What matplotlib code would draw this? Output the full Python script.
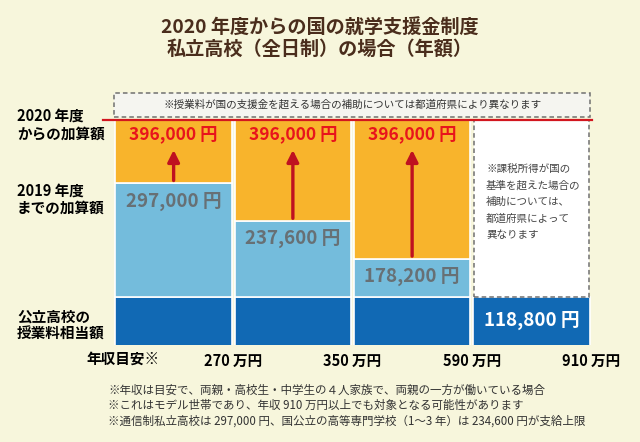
import matplotlib
matplotlib.use("Agg")
from matplotlib import pyplot as plt
from matplotlib.patches import Rectangle

plt.rcParams['font.family'] = ['Noto Sans CJK JP', 'DejaVu Sans']

# data (yen, per year)
columns = [0, 1, 2, 3]
public_amount = [118800, 118800, 118800, 118800]
until_2019 = [297000, 237600, 178200]
from_2020 = [396000, 396000, 396000]
income_ticks = ['270 万円', '350 万円', '590 万円', '910 万円']
public_label = '118,800 円'

title = '2020 年度からの国の就学支援金制度\n私立高校（全日制）の場合（年額）'
top_note = '※授業料が国の支援金を超える場合の補助については都道府県により異なります'
side_note = '※課税所得が国の\n基準を超えた場合の\n補助については、\n都道府県によって\n異なります'
footnotes = ['※年収は目安で、両親・高校生・中学生の４人家族で、両親の一方が働いている場合',
             '※これはモデル世帯であり、年収 910 万円以上でも対象となる可能性があります',
             '※通信制私立高校は 297,000 円、国公立の高等専門学校（1～3 年）は 234,600 円が支給上限']

bg = '#f7f6dc'
orange = '#f8b42c'
light_blue = '#74bcdc'
dark_blue = '#1169b4'
red_text = '#e8141c'
arrow_red = '#bf1120'
gray_val = '#677075'

fig = plt.figure(figsize=(6.4, 4.42), dpi=100, facecolor=bg)
ax = fig.add_axes([114 / 640, 1 - 345 / 442, 477 / 640, 225 / 442])
ax.set_facecolor(bg)
ax.set_xlim(-0.5, 3.5)
ax.set_ylim(42700, 396000)
for s in ax.spines.values():
    s.set_visible(False)
ax.set_yticks([])

w = 0.975
# public school base
ax.bar(columns, public_amount, width=w, color=dark_blue, edgecolor='white', linewidth=1.2)
# 2019 amounts
n = len(until_2019)
ax.bar(columns[:n], [u - p for u, p in zip(until_2019, public_amount)], bottom=public_amount[:n],
       width=w, color=light_blue, edgecolor='white', linewidth=1.2)
# 2020 additions
ax.bar(columns[:n], [t - u for t, u in zip(from_2020, until_2019)], bottom=until_2019,
       width=w, color=orange, edgecolor='white', linewidth=1.2)
# column 4: left to prefectures
ax.bar(columns[3], from_2020[0] - public_amount[3], bottom=public_amount[3], width=w * 0.99,
       color='white', edgecolor='#707070', linewidth=1.1, linestyle=(0, (3, 2)))

for i in range(n):
    ax.annotate('396,000 円', (columns[i], from_2020[i]), xytext=(0, -14), textcoords='offset pixels',
                ha='center', va='center', color=red_text, fontsize=12.5, fontweight='bold')
    ax.annotate('{:,} 円'.format(until_2019[i]), (columns[i], until_2019[i]), xytext=(0, -18),
                textcoords='offset pixels', ha='center', va='center', color=gray_val,
                fontsize=13.5, fontweight='bold')
    ax.annotate('', xy=(columns[i], from_2020[i] - 30 / 0.000637), xytext=(columns[i], until_2019[i] + 4000),
                arrowprops=dict(arrowstyle='-|>,head_width=0.35,head_length=0.7', color=arrow_red,
                                lw=2.4, shrinkA=0, shrinkB=0))

ax.text(columns[3], (ax.get_ylim()[0] + public_amount[3]) / 2, public_label, ha='center', va='center',
        color='white', fontsize=13.5, fontweight='bold')
ax.text(2.62, 326000, side_note, ha='left', va='top', fontsize=7.6, color='#444444', linespacing=1.75)

# red line for the 2020 ceiling
ax.axhline(from_2020[0], xmin=-0.023, xmax=1.003, color='#d2161f', lw=1.6, clip_on=False, zorder=5)

# dashed note box above the chart
ax.add_patch(Rectangle((0.0, 1.012), 0.997, 0.11, transform=ax.transAxes, clip_on=False,
                       facecolor='#f5f5f0', edgecolor='#707070', lw=1.1, linestyle=(0, (3, 2))))
ax.text(0.5, 1.067, top_note, transform=ax.transAxes, ha='center', va='center', fontsize=7.6,
        color='#333333')

# x labels at income boundaries
ax.set_xticks([c + 0.5 for c in columns], income_ticks, fontsize=10.5, fontweight='bold')
ax.tick_params(axis='x', length=0, pad=6)
fig.text(123 / 640, 1 - 359 / 442, '年収目安※', ha='center', va='center', fontsize=10.5, fontweight='bold')

# row labels
fig.text(17 / 640, 1 - 124.5 / 442, '2020 年度\nからの加算額', ha='left', va='center', fontsize=10.5,
         fontweight='bold', linespacing=1.1)
fig.text(17 / 640, 1 - 199 / 442, '2019 年度\nまでの加算額', ha='left', va='center', fontsize=10.5,
         fontweight='bold', linespacing=1.1)
fig.text(17 / 640, 1 - 325 / 442, '公立高校の\n授業料相当額', ha='left', va='center', fontsize=10.5,
         fontweight='bold', linespacing=1.1)

fig.text(0.5, 1 - 38.5 / 442, title, ha='center', va='center', fontsize=13.8, fontweight='bold',
         color='#4a2d1c', linespacing=1.2)

for k, line in enumerate(footnotes):
    fig.text(108 / 640, 1 - (390 + 15.5 * k) / 442, line, ha='left', va='center', fontsize=8.3,
             color='#333333')

fig.savefig('out.png', dpi=100, facecolor=bg)
